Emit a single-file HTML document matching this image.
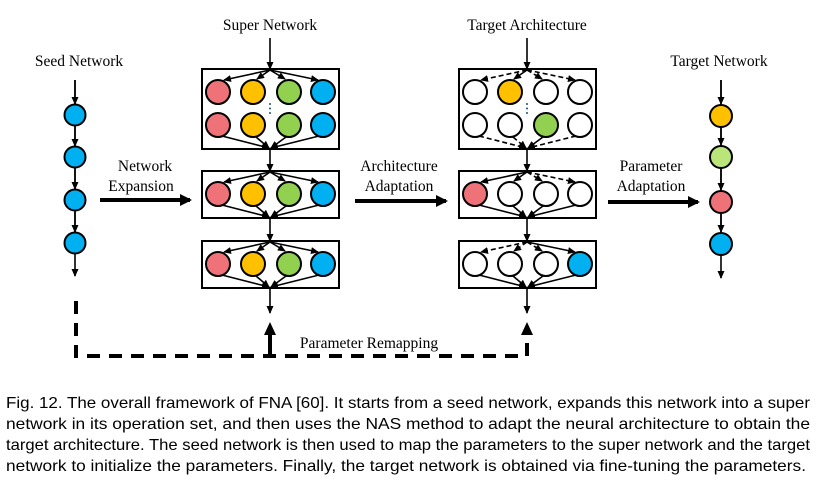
<!DOCTYPE html>
<html><head><meta charset="utf-8"><style>
html,body{margin:0;padding:0;background:#fff;}
svg{display:block;}
.l{font-family:"Liberation Serif",serif;font-size:15.5px;fill:#000;text-anchor:middle;}
.c{font-family:"Liberation Sans",sans-serif;font-size:16px;fill:#000;}
</style></head><body>
<svg width="819" height="484" viewBox="0 0 819 484" xmlns="http://www.w3.org/2000/svg">
<defs>
<marker id="a" markerWidth="8" markerHeight="8" refX="7" refY="4" orient="auto" markerUnits="userSpaceOnUse"><path d="M0,0.5 L8,4 L0,7.5z" fill="#000"/></marker>
<marker id="b" markerWidth="14" markerHeight="12" refX="10" refY="6" orient="auto" markerUnits="userSpaceOnUse"><path d="M0,0 L12,6 L0,12z" fill="#000"/></marker>
<g id="fan">
<line x1="270" y1="0" x2="224" y2="10" marker-end="url(#a)"/>
<line x1="270" y1="0" x2="256" y2="9" marker-end="url(#a)"/>
<line x1="270" y1="0" x2="286" y2="9" marker-end="url(#a)"/>
<line x1="270" y1="0" x2="318" y2="10" marker-end="url(#a)"/>
</g>
</defs>
<g stroke="#000" stroke-width="2" fill="none">
<!-- Seed network -->
<line x1="75" y1="80" x2="75" y2="276" stroke-width="1.6" marker-end="url(#a)"/>
<line x1="75" y1="80" x2="75" y2="104" stroke-width="1.6" marker-end="url(#a)"/>
<line x1="75" y1="126" x2="75" y2="146" stroke-width="1.6" marker-end="url(#a)"/>
<line x1="75" y1="168" x2="75" y2="189" stroke-width="1.6" marker-end="url(#a)"/>
<line x1="75" y1="211" x2="75" y2="232" stroke-width="1.6" marker-end="url(#a)"/>
<circle cx="75" cy="115" r="10.5" fill="#00b0f0"/>
<circle cx="75" cy="157" r="10.5" fill="#00b0f0"/>
<circle cx="75" cy="200" r="10.5" fill="#00b0f0"/>
<circle cx="75" cy="243" r="10.5" fill="#00b0f0"/>
<!-- Target network -->
<line x1="721" y1="80" x2="721" y2="278" stroke-width="1.6" marker-end="url(#a)"/>
<line x1="721" y1="80" x2="721" y2="104" stroke-width="1.6" marker-end="url(#a)"/>
<line x1="721" y1="127" x2="721" y2="145" stroke-width="1.6" marker-end="url(#a)"/>
<line x1="721" y1="168" x2="721" y2="190" stroke-width="1.6" marker-end="url(#a)"/>
<line x1="721" y1="213" x2="721" y2="232" stroke-width="1.6" marker-end="url(#a)"/>
<circle cx="721" cy="116" r="11" fill="#ffc000"/>
<circle cx="721" cy="157" r="11" fill="#b9e57a"/>
<circle cx="721" cy="202" r="11" fill="#ef7278"/>
<circle cx="721" cy="244" r="11" fill="#00b0f0"/>

<!-- Super network -->
<line x1="270" y1="38" x2="270" y2="69" stroke-width="1.6" marker-end="url(#a)"/>
<line x1="270" y1="149" x2="270" y2="171" stroke-width="1.6" marker-end="url(#a)"/>
<line x1="270" y1="218" x2="270" y2="241" stroke-width="1.6" marker-end="url(#a)"/>
<line x1="270" y1="288" x2="270" y2="313" stroke-width="1.6" marker-end="url(#a)"/>
<rect x="202" y="69" width="137" height="80"/>
<rect x="202" y="171" width="137" height="47"/>
<rect x="202" y="241" width="137" height="47"/>
<g stroke-width="1.6">
<line x1="270" y1="70" x2="224" y2="80" marker-end="url(#a)"/>
<line x1="270" y1="70" x2="257" y2="79" marker-end="url(#a)"/>
<line x1="270" y1="70" x2="285" y2="79" marker-end="url(#a)"/>
<line x1="270" y1="70" x2="318" y2="80" marker-end="url(#a)"/>
<line x1="222" y1="136" x2="269" y2="148" marker-end="url(#a)"/>
<line x1="256" y1="137" x2="269" y2="148" marker-end="url(#a)"/>
<line x1="286" y1="137" x2="271" y2="148" marker-end="url(#a)"/>
<line x1="319" y1="136" x2="271" y2="148" marker-end="url(#a)"/>
<line x1="270" y1="172" x2="224" y2="182" marker-end="url(#a)"/>
<line x1="270" y1="172" x2="257" y2="181" marker-end="url(#a)"/>
<line x1="270" y1="172" x2="285" y2="181" marker-end="url(#a)"/>
<line x1="270" y1="172" x2="318" y2="182" marker-end="url(#a)"/>
<line x1="222" y1="205" x2="269" y2="217" marker-end="url(#a)"/>
<line x1="256" y1="206" x2="269" y2="217" marker-end="url(#a)"/>
<line x1="286" y1="206" x2="271" y2="217" marker-end="url(#a)"/>
<line x1="319" y1="205" x2="271" y2="217" marker-end="url(#a)"/>
<line x1="270" y1="242" x2="224" y2="252" marker-end="url(#a)"/>
<line x1="270" y1="242" x2="257" y2="251" marker-end="url(#a)"/>
<line x1="270" y1="242" x2="285" y2="251" marker-end="url(#a)"/>
<line x1="270" y1="242" x2="318" y2="252" marker-end="url(#a)"/>
<line x1="222" y1="275" x2="269" y2="287" marker-end="url(#a)"/>
<line x1="256" y1="276" x2="269" y2="287" marker-end="url(#a)"/>
<line x1="286" y1="276" x2="271" y2="287" marker-end="url(#a)"/>
<line x1="319" y1="275" x2="271" y2="287" marker-end="url(#a)"/>
</g>
<circle cx="218" cy="92" r="12" fill="#ef7278"/><circle cx="253" cy="92" r="12" fill="#ffc000"/><circle cx="289" cy="92" r="12" fill="#92d050"/><circle cx="323" cy="92" r="12" fill="#00b0f0"/>
<circle cx="218" cy="125" r="12" fill="#ef7278"/><circle cx="253" cy="125" r="12" fill="#ffc000"/><circle cx="289" cy="125" r="12" fill="#92d050"/><circle cx="323" cy="125" r="12" fill="#00b0f0"/>
<circle cx="218" cy="194" r="12" fill="#ef7278"/><circle cx="253" cy="194" r="12" fill="#ffc000"/><circle cx="289" cy="194" r="12" fill="#92d050"/><circle cx="323" cy="194" r="12" fill="#00b0f0"/>
<circle cx="218" cy="264" r="12" fill="#ef7278"/><circle cx="253" cy="264" r="12" fill="#ffc000"/><circle cx="289" cy="264" r="12" fill="#92d050"/><circle cx="323" cy="264" r="12" fill="#00b0f0"/>

<!-- Target architecture (offset +257) -->
<g transform="translate(257,0)">
<line x1="270" y1="38" x2="270" y2="69" stroke-width="1.6" marker-end="url(#a)"/>
<line x1="270" y1="149" x2="270" y2="171" stroke-width="1.6" marker-end="url(#a)"/>
<line x1="270" y1="218" x2="270" y2="241" stroke-width="1.6" marker-end="url(#a)"/>
<line x1="270" y1="288" x2="270" y2="313" stroke-width="1.6" marker-end="url(#a)"/>
<rect x="202" y="69" width="137" height="80"/>
<rect x="202" y="171" width="137" height="47"/>
<rect x="202" y="241" width="137" height="47"/>
<g stroke-width="1.6">
<line x1="270" y1="70" x2="224" y2="80" stroke-dasharray="5,3" marker-end="url(#a)"/>
<line x1="270" y1="70" x2="257" y2="79" marker-end="url(#a)"/>
<line x1="270" y1="70" x2="285" y2="79" stroke-dasharray="5,3" marker-end="url(#a)"/>
<line x1="270" y1="70" x2="318" y2="80" stroke-dasharray="5,3" marker-end="url(#a)"/>
<line x1="222" y1="136" x2="269" y2="148" stroke-dasharray="5,3" marker-end="url(#a)"/>
<line x1="256" y1="137" x2="269" y2="148" stroke-dasharray="5,3" marker-end="url(#a)"/>
<line x1="286" y1="137" x2="271" y2="148" marker-end="url(#a)"/>
<line x1="319" y1="136" x2="271" y2="148" stroke-dasharray="5,3" marker-end="url(#a)"/>
<line x1="270" y1="172" x2="224" y2="182" marker-end="url(#a)"/>
<line x1="270" y1="172" x2="257" y2="181" marker-end="url(#a)"/>
<line x1="270" y1="172" x2="285" y2="181" stroke-dasharray="5,3" marker-end="url(#a)"/>
<line x1="270" y1="172" x2="318" y2="182" stroke-dasharray="5,3" marker-end="url(#a)"/>
<line x1="222" y1="205" x2="269" y2="217" marker-end="url(#a)"/>
<line x1="256" y1="206" x2="269" y2="217" marker-end="url(#a)"/>
<line x1="286" y1="206" x2="271" y2="217" marker-end="url(#a)"/>
<line x1="319" y1="205" x2="271" y2="217" marker-end="url(#a)"/>
<line x1="270" y1="242" x2="224" y2="252" stroke-dasharray="5,3" marker-end="url(#a)"/>
<line x1="270" y1="242" x2="257" y2="251" stroke-dasharray="5,3" marker-end="url(#a)"/>
<line x1="270" y1="242" x2="285" y2="251" stroke-dasharray="5,3" marker-end="url(#a)"/>
<line x1="270" y1="242" x2="318" y2="252" marker-end="url(#a)"/>
<line x1="222" y1="275" x2="269" y2="287" marker-end="url(#a)"/>
<line x1="256" y1="276" x2="269" y2="287" marker-end="url(#a)"/>
<line x1="286" y1="276" x2="271" y2="287" marker-end="url(#a)"/>
<line x1="319" y1="275" x2="271" y2="287" marker-end="url(#a)"/>
</g>
<circle cx="218" cy="92" r="12" fill="#fff"/><circle cx="253" cy="92" r="12" fill="#ffc000"/><circle cx="289" cy="92" r="12" fill="#fff"/><circle cx="323" cy="92" r="12" fill="#fff"/>
<circle cx="218" cy="125" r="12" fill="#fff"/><circle cx="253" cy="125" r="12" fill="#fff"/><circle cx="289" cy="125" r="12" fill="#92d050"/><circle cx="323" cy="125" r="12" fill="#fff"/>
<circle cx="218" cy="194" r="12" fill="#ef7278"/><circle cx="253" cy="194" r="12" fill="#fff"/><circle cx="289" cy="194" r="12" fill="#fff"/><circle cx="323" cy="194" r="12" fill="#fff"/>
<circle cx="218" cy="264" r="12" fill="#fff"/><circle cx="253" cy="264" r="12" fill="#fff"/><circle cx="289" cy="264" r="12" fill="#fff"/><circle cx="323" cy="264" r="12" fill="#00b0f0"/>
</g>

<!-- big arrows -->
<line x1="100" y1="200" x2="190" y2="200" stroke-width="4" marker-end="url(#b)"/>
<line x1="355" y1="201" x2="446" y2="201" stroke-width="4" marker-end="url(#b)"/>
<line x1="608" y1="202" x2="698" y2="202" stroke-width="4" marker-end="url(#b)"/>

<!-- remapping dashed -->
<path d="M76,301 L76,356 L527,356 L527,330" stroke-width="4" stroke-dasharray="13,9"/>
<line x1="270" y1="356" x2="270" y2="330" stroke-width="4"/>
</g>
<path d="M264,335 L270,322 L276,335z" fill="#000"/>
<path d="M521,335 L527,322 L533,335z" fill="#000"/>
<g fill="#1f4e79"><circle cx="270" cy="104" r="1"/><circle cx="270" cy="108.5" r="1"/><circle cx="270" cy="113" r="1"/></g>
<g fill="#1f4e79"><circle cx="527" cy="104" r="1"/><circle cx="527" cy="108.5" r="1"/><circle cx="527" cy="113" r="1"/></g>

<text class="l" x="270" y="30">Super Network</text>
<text class="l" x="527" y="30">Target Architecture</text>
<text class="l" x="79" y="66">Seed Network</text>
<text class="l" x="719" y="66">Target Network</text>
<text class="l" x="145" y="171">Network</text>
<text class="l" x="141" y="191">Expansion</text>
<text class="l" x="399" y="171">Architecture</text>
<text class="l" x="399" y="191">Adaptation</text>
<text class="l" x="651" y="171">Parameter</text>
<text class="l" x="651" y="191">Adaptation</text>
<text class="l" x="369" y="348">Parameter Remapping</text>

<text class="c" x="6" y="408" textLength="804" lengthAdjust="spacingAndGlyphs">Fig. 12.  The overall framework of FNA [60]. It starts from a seed network, expands this network into a super</text>
<text class="c" x="6" y="429" textLength="804" lengthAdjust="spacingAndGlyphs">network in its operation set, and then uses the NAS method to adapt the neural architecture to obtain the</text>
<text class="c" x="6" y="450" textLength="804" lengthAdjust="spacingAndGlyphs">target architecture. The seed network is then used to map the parameters to the super network and the target</text>
<text class="c" x="6" y="471" textLength="800" lengthAdjust="spacingAndGlyphs">network to initialize the parameters. Finally, the target network is obtained via fine-tuning the parameters.</text>
</svg>
</body></html>
